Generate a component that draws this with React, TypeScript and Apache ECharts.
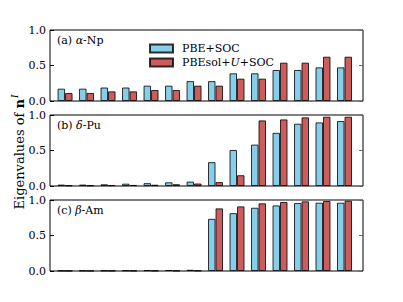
import React, { useEffect, useRef } from "react";
import * as echarts from "echarts";

const orbitalIndex = [0, 1, 2, 3, 4, 5, 6, 7, 8, 9, 10, 11, 12, 13];
const panelLabels = ["(a) {g|α}-Np", "(b) {g|δ}-Pu", "(c) {g|β}-Am"];
const yTicks = [0, 0.5, 1.0];

const npPBE = [0.174, 0.174, 0.19, 0.19, 0.216, 0.216, 0.28, 0.28, 0.39, 0.39, 0.437, 0.437, 0.474, 0.474];
const npU = [0.113, 0.113, 0.136, 0.136, 0.155, 0.155, 0.216, 0.216, 0.315, 0.315, 0.54, 0.54, 0.624, 0.624];
const puPBE = [0.02, 0.02, 0.024, 0.033, 0.04, 0.052, 0.062, 0.336, 0.507, 0.583, 0.749, 0.877, 0.896, 0.915];
const puU = [0.01, 0.01, 0.013, 0.015, 0.018, 0.025, 0.035, 0.055, 0.152, 0.924, 0.938, 0.967, 0.976, 0.976];
const amPBE = [0.005, 0.006, 0.007, 0.009, 0.012, 0.014, 0.017, 0.735, 0.815, 0.891, 0.924, 0.957, 0.962, 0.962];
const amU = [0.003, 0.003, 0.004, 0.004, 0.005, 0.005, 0.006, 0.882, 0.91, 0.953, 0.972, 0.981, 0.986, 0.99];

const seriesNames = ["PBE+SOC", "PBEsol+U+SOC"];

const FONT = "'DejaVu Serif', serif";

export default function App() {
  const ref = useRef<HTMLDivElement>(null);
  useEffect(() => {
    document.body.style.margin = "0";
    const chart = echarts.init(ref.current!, null, { renderer: "svg" });
    const panels = [
      [npPBE, npU],
      [puPBE, puU],
      [amPBE, amU],
    ];
    const tops = [30, 115, 200];
    const grids = tops.map((t) => ({
      left: 50,
      top: t,
      width: 313,
      height: 71,
      show: true,
      borderColor: "#000",
      borderWidth: 1,
      backgroundColor: "transparent",
    }));
    const xAxis = tops.map((_, i) => ({
      type: "value",
      gridIndex: i,
      min: -0.7,
      max: 13.86,
      show: false,
    }));
    const yAxis: any[] = [];
    tops.forEach((_, i) => {
      yAxis.push({
        type: "value",
        gridIndex: i,
        min: 0,
        max: 1,
        interval: 0.5,
        position: "left",
        axisLine: { show: false, onZero: false },
        splitLine: { show: false },
        axisTick: { show: true, inside: true, length: 4, lineStyle: { color: "#000" } },
        axisLabel: {
          fontFamily: FONT,
          fontSize: 11,
          color: "#000",
          margin: 4,
          formatter: (v: number) => (yTicks.includes(v) ? v.toFixed(1) : ""),
        },
      });
      yAxis.push({
        type: "value",
        gridIndex: i,
        min: 0,
        max: 1,
        interval: 0.5,
        position: "right",
        axisLine: { show: false, onZero: false },
        splitLine: { show: false },
        axisTick: { show: true, inside: true, length: 4, lineStyle: { color: "#666" } },
        axisLabel: { show: false },
      });
    });
    const colors = ["#87CEEB", "#CD5C5C"];
    const series: any[] = [];
    panels.forEach((pair, pi) => {
      pair.forEach((vals, si) => {
        series.push({
          type: "bar",
          name: seriesNames[si],
          xAxisIndex: pi,
          yAxisIndex: pi * 2,
          barWidth: 7.5,
          barGap: "0%",
          data: orbitalIndex.map((x, k) => [x, vals[k]]),
          itemStyle: {
            color: colors[si],
            borderColor: "rgba(0,0,0,0.8)",
            borderWidth: 1,
          },
        });
      });
    });
    const option: any = {
      animation: false,
      textStyle: { fontFamily: FONT },
      grid: grids,
      xAxis,
      yAxis,
      series,
      legend: {
        data: seriesNames,
        orient: "vertical",
        left: 144,
        top: 38,
        itemWidth: 23,
        itemHeight: 8,
        itemGap: 3,
        icon: "rect",
        textStyle: {
          fontFamily: FONT,
          fontSize: 11,
          color: "#000",
          padding: [0, 0, 0, 4],
          rich: {
            n: { fontFamily: FONT, fontSize: 11, color: "#000" },
            i: { fontFamily: FONT, fontSize: 11, fontStyle: "italic", color: "#000" },
          },
        },
        formatter: (name: string) =>
          name === "PBEsol+U+SOC" ? "{n|PBEsol+}{i|U}{n|+SOC}" : "{n|" + name + "}",
      },
      graphic: [
        ...panelLabels.map((lab, i) => ({
          type: "text",
          left: 57,
          top: tops[i] + 5,
          style: {
            text: lab,
            fontFamily: FONT,
            fontSize: 11,
            fill: "#000",
            rich: {
              g: { fontFamily: FONT, fontSize: 11, fontStyle: "italic", fill: "#000" },
            },
          },
        })),
        {
          type: "text",
          x: 19,
          y: 152,
          rotation: Math.PI / 2,
          style: {
            text: "Eigenvalues of {b|n}{s|I}",
            fontFamily: FONT,
            fontSize: 13,
            fill: "#000",
            align: "center",
            verticalAlign: "middle",
            rich: {
              b: { fontFamily: FONT, fontSize: 13, fontWeight: "bold", fill: "#000" },
              s: {
                fontFamily: FONT,
                fontSize: 9,
                fontStyle: "italic",
                fill: "#000",
                verticalAlign: "bottom",
                padding: [0, 0, 8, 1],
              },
            },
          },
        },
      ],
    };
    chart.setOption(option);
    return () => chart.dispose();
  }, []);
  return (
    <div
      ref={ref}
      style={{ position: "absolute", left: 0, top: 0, width: 403, height: 302, background: "#fff" }}
    />
  );
}
